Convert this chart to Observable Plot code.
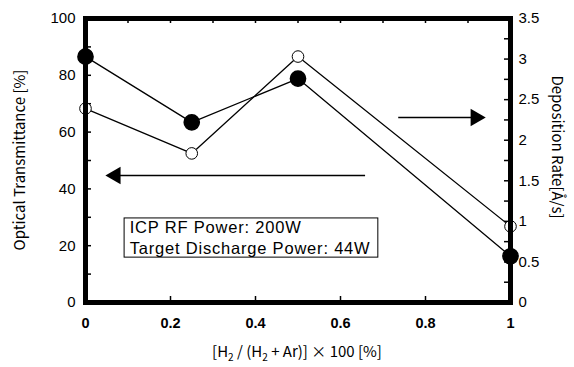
<!DOCTYPE html>
<html><head><meta charset="utf-8">
<script src="https://cdn.jsdelivr.net/npm/d3@7"></script>
<script src="https://cdn.jsdelivr.net/npm/@observablehq/plot@0.6"></script>
<style>body{margin:0;background:#fff}</style>
</head><body><div id="chart"></div>
<script>
// Data
const ratio = [0, 0.25, 0.5, 1];
const transmittance = [68.3, 52.5, 86.6, 26.8];   // open circles, left axis [%]
const depRate = [3.03, 2.22, 2.76, 0.57];          // filled circles, right axis [Å/s]
const leftTicks = [0, 20, 40, 60, 80, 100];
const rightTicks = [0, 0.5, 1, 1.5, 2, 2.5, 3, 3.5];
const xTicks = [0, 0.2, 0.4, 0.6, 0.8, 1];
const legendLines = ["ICP RF Power: 200W", "Target Discharge Power: 44W"];
const arrowLeft = {x1: 0.0706, x2: 0.659, y: 44.7};
const arrowRight = {x1: 0.737, x2: 0.918, y: 65.1};
const legendBox = {x1: 0.092, x2: 0.689, y1: 15.8, y2: 29.6, tx: 0.104, ty: [26.2, 18.9]};

const rightMax = 3.5;
const toLeft = r => r / rightMax * 100;
const tData = ratio.map((x, i) => ({x, y: transmittance[i]}));
const rData = ratio.map((x, i) => ({x, y: toLeft(depRate[i])}));
const innerH = 367 - 18 - 65;
const innerW = 574 - 85 - 64;

const chart = Plot.plot({
  width: 574, height: 367,
  marginLeft: 85, marginRight: 64, marginTop: 18, marginBottom: 65,
  style: {fontFamily: "'Liberation Sans', Arial, sans-serif", fontSize: "15px", color: "#000", background: "#fff"},
  x: {domain: [0, 1]},
  y: {domain: [0, 100]},
  marks: [
    // inward ticks
    Plot.tickX(d3.range(0, 11).map(i => i / 10), {x: d => d, insetBottom: innerH - 5, stroke: "#000", strokeWidth: 1.5}),
    Plot.tickX([0.2, 0.4, 0.6, 0.8], {x: d => d, insetTop: innerH - 6, stroke: "#000", strokeWidth: 1.5}),
    Plot.tickY(d3.range(0, 11).map(i => i * 10), {y: d => d, insetRight: innerW - 6, stroke: "#000", strokeWidth: 1.5}),
    Plot.tickY(d3.range(0, 15).map(i => toLeft(i * 0.25)), {y: d => d, insetLeft: innerW - 6, stroke: "#000", strokeWidth: 1.5}),
    // axes labels
    Plot.axisY(leftTicks, {anchor: "left", tickSize: 0, tickPadding: 10, fontSize: 15}),
    Plot.axisY(rightTicks.map(toLeft), {anchor: "right", tickSize: 0, tickPadding: 8, fontSize: 15,
      tickFormat: v => d3.format("~g")(Math.round(v * rightMax / 100 * 100) / 100)}),
    Plot.axisX(xTicks, {anchor: "bottom", tickSize: 0, tickPadding: 15, fontSize: 14.5, fontWeight: "bold",
      tickFormat: d3.format("~g")}),
    // legend box
    Plot.rect([legendBox], {x1: "x1", x2: "x2", y1: "y1", y2: "y2", fill: "#fff", stroke: "#000", strokeWidth: 1}),
    Plot.text(legendLines, {x: legendBox.tx, y: (d, i) => legendBox.ty[i], text: d => d, textAnchor: "start",
      fontSize: 16.5, fontFamily: "'Liberation Sans', Arial, sans-serif", fill: "#000"}),
    // arrows
    Plot.ruleY([arrowLeft, arrowRight], {y: "y", x1: "x1", x2: "x2", stroke: "#000", strokeWidth: 1.5}),
    Plot.dot([arrowLeft], {x: "x1", y: "y", symbol: "triangle", r: 6.5, fill: "#000", rotate: -90}),
    Plot.dot([arrowRight], {x: "x2", y: "y", symbol: "triangle", r: 6.5, fill: "#000", rotate: 90}),
    // series
    Plot.line(tData, {x: "x", y: "y", stroke: "#000", strokeWidth: 1.3}),
    Plot.line(rData, {x: "x", y: "y", stroke: "#000", strokeWidth: 1.3}),
    Plot.dot(tData, {x: "x", y: "y", r: 5.8, fill: "#fff", stroke: "#000", strokeWidth: 1}),
    Plot.dot(rData, {x: "x", y: "y", r: 7.6, fill: "#000", stroke: "#000"}),
    Plot.frame({stroke: "#000", strokeWidth: 5})
  ]
});

const svg = d3.select(chart);
svg.selectAll("text").filter(function() { return this.textContent.startsWith("Target") || this.textContent.startsWith("ICP"); })
  .attr("letter-spacing", 0.8);
const titleFont = "'Noto Sans CJK JP', sans-serif";
svg.append("text").attr("transform", "translate(21,160) rotate(-90)")
  .attr("text-anchor", "middle").attr("dominant-baseline", "middle")
  .attr("font-family", titleFont).attr("font-size", 15).attr("fill", "#000")
  .text("Optical Transmittance [%]");
svg.append("text").attr("transform", "translate(556,147) rotate(90)")
  .attr("text-anchor", "middle").attr("dominant-baseline", "middle")
  .attr("font-family", titleFont).attr("font-size", 15).attr("fill", "#000")
  .text("Deposition Rate[Å/s]");
const xt = svg.append("text").attr("x", 297).attr("y", 357)
  .attr("text-anchor", "middle")
  .attr("font-family", titleFont).attr("font-size", 15).attr("fill", "#000");
xt.append("tspan").text("[H");
xt.append("tspan").attr("font-size", 10).attr("dy", 4).text("2");
xt.append("tspan").attr("dy", -4).text(" / (H");
xt.append("tspan").attr("font-size", 10).attr("dy", 4).text("2");
xt.append("tspan").attr("dy", -4).text(" + Ar)] × 100 [%]");

document.getElementById("chart").appendChild(chart);
</script>
</body></html>
